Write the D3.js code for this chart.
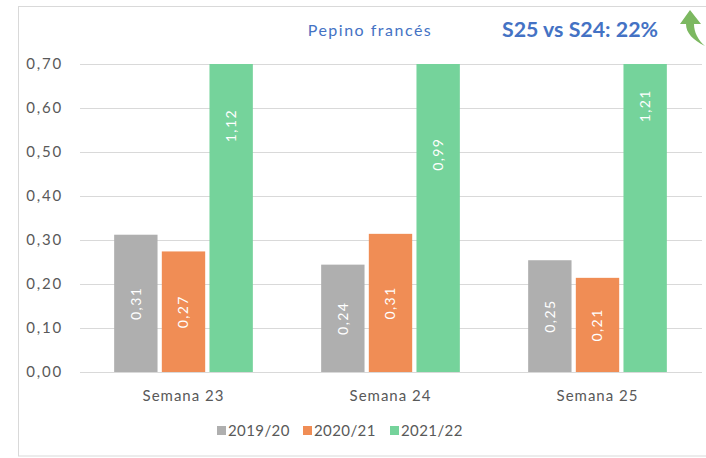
<!DOCTYPE html>
<html>
<head>
<meta charset="utf-8">
<script src="https://cdnjs.cloudflare.com/ajax/libs/d3/7.8.5/d3.min.js"></script>
<style>
  body { margin: 0; background: #fff; }
  text { font-family: "Lato", "Open Sans", sans-serif; }
</style>
</head>
<body>
<div id="chart"></div>
<script>
// data
const categories = ['Semana 23', 'Semana 24', 'Semana 25'];
const seasons = ['2019/20', '2020/21', '2021/22'];
const values2019 = [0.312, 0.244, 0.254];
const values2020 = [0.274, 0.314, 0.214];
const values2021 = [1.12, 0.99, 1.21];
const yTicks = [0, 0.1, 0.2, 0.3, 0.4, 0.5, 0.6, 0.7];
const colors = ['#afafaf', '#f08d55', '#75d39b'];
const title = 'Pepino francés';
const note = 'S25 vs S24: 22%';

const seriesValues = [values2019, values2020, values2021];

const W = 706, H = 458;
const margin = { top: 64, right: 5, bottom: 86, left: 80 };

const svg = d3.select('#chart').append('svg')
  .attr('width', W)
  .attr('height', H);

// outer frame
svg.append('rect')
  .attr('x', 18.5).attr('y', 6.5)
  .attr('width', W + 10).attr('height', 449.5)
  .attr('fill', 'none')
  .attr('stroke', '#d9d9d9');

const x0 = d3.scaleBand()
  .domain(categories)
  .range([margin.left, margin.left + 621])
  .paddingInner(0.33)
  .paddingOuter(0.165);

const x1 = d3.scaleBand()
  .domain(seasons)
  .range([0, x0.bandwidth()])
  .paddingInner(0.09);

const y = d3.scaleLinear()
  .domain([0, 0.7])
  .range([372, 64])
  .clamp(true);

// unclamped version for label placement
const yLabel = y.copy().clamp(false);

const locale = d3.formatLocale({ decimal: ',', thousands: '.', grouping: [3], currency: ['', '€'] });
const fmt = locale.format('.2f');

// gridlines
svg.append('g')
  .selectAll('line')
  .data(yTicks)
  .join('line')
  .attr('x1', margin.left)
  .attr('x2', 702)
  .attr('y1', d => Math.round(y(d)) + 0.5)
  .attr('y2', d => Math.round(y(d)) + 0.5)
  .attr('stroke', '#d9d9d9')
  .attr('stroke-width', 1);

// y labels
svg.append('g')
  .selectAll('text')
  .data(yTicks)
  .join('text')
  .attr('x', 63)
  .attr('y', d => y(d))
  .attr('dy', '0.35em')
  .attr('text-anchor', 'end')
  .attr('font-size', 15)
  .attr('letter-spacing', 1.8)
  .attr('fill', '#595959')
  .text(d => fmt(d));

// bars
const rows = [];
categories.forEach((c, i) => {
  seasons.forEach((s, j) => {
    rows.push({ cat: c, season: s, value: seriesValues[j][i], color: colors[j] });
  });
});

const bars = svg.append('g');
bars.selectAll('rect')
  .data(rows)
  .join('rect')
  .attr('x', d => x0(d.cat) + x1(d.season))
  .attr('y', d => y(d.value))
  .attr('width', x1.bandwidth())
  .attr('height', d => y(0) - y(d.value))
  .attr('fill', d => d.color);

// value labels, rotated, at the middle of the full value
bars.selectAll('text')
  .data(rows)
  .join('text')
  .attr('transform', d => {
    const cx = x0(d.cat) + x1(d.season) + x1.bandwidth() / 2;
    const cy = yLabel(d.value / 2);
    return `translate(${cx},${cy}) rotate(-90)`;
  })
  .attr('text-anchor', 'middle')
  .attr('dy', '0.35em')
  .attr('font-size', 14)
  .attr('fill', '#ffffff')
  .attr('letter-spacing', 1.4)
  .text(d => fmt(d.value));

// x labels
svg.append('g')
  .selectAll('text')
  .data(categories)
  .join('text')
  .attr('x', d => x0(d) + x0.bandwidth() / 2)
  .attr('y', 401)
  .attr('text-anchor', 'middle')
  .attr('font-size', 15)
  .attr('letter-spacing', 1)
  .attr('fill', '#595959')
  .text(d => d);

// legend
const legendX = [217, 303, 390];
const legend = svg.append('g')
  .selectAll('g')
  .data(seasons)
  .join('g')
  .attr('transform', (d, i) => `translate(${legendX[i]},426)`);

legend.append('rect')
  .attr('width', 9).attr('height', 9)
  .attr('fill', (d, i) => colors[i]);

legend.append('text')
  .attr('x', 11)
  .attr('y', 5)
  .attr('dy', '0.35em')
  .attr('font-size', 15)
  .attr('letter-spacing', 0.4)
  .attr('fill', '#595959')
  .text(d => d);

// title
svg.append('text')
  .attr('x', 370)
  .attr('y', 36)
  .attr('text-anchor', 'middle')
  .attr('font-size', 16)
  .attr('letter-spacing', 1.5)
  .attr('fill', '#4472c4')
  .text(title);

svg.append('text')
  .attr('x', 502)
  .attr('y', 37)
  .attr('font-weight', 'bold')
  .attr('font-size', 21)
  .attr('textLength', 156)
  .attr('lengthAdjust', 'spacingAndGlyphs')
  .attr('fill', '#4472c4')
  .text(note);

// curved green arrow
svg.append('path')
  .attr('d', 'M705,46 C693,40 686,33 686,24 L680,24 L690,10 L701,24 L694,24 C694,32 698,40 705,46 Z')
  .attr('fill', '#7cb860');
</script>
</body>
</html>
